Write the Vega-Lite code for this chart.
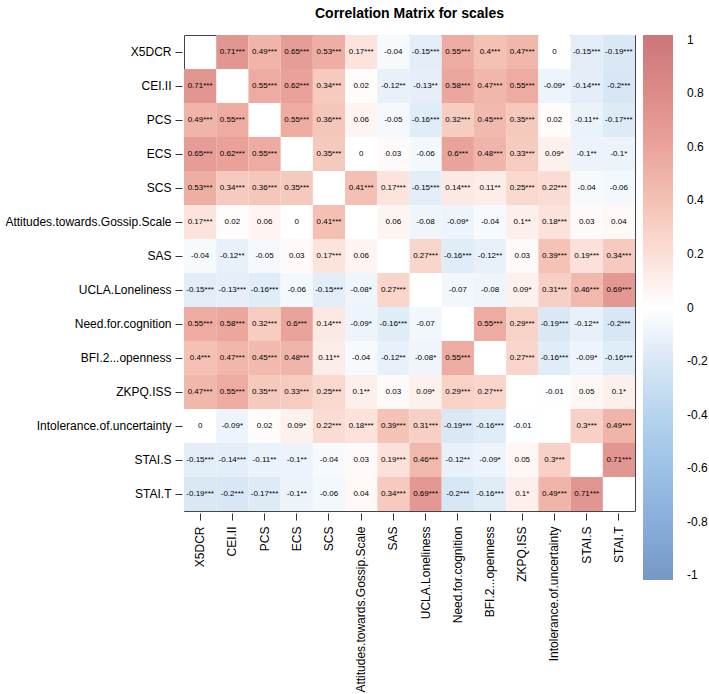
{
  "$schema": "https://vega.github.io/schema/vega-lite/v6.json",
  "width": 451,
  "height": 476,
  "autosize": {"type": "none"},
  "padding": {"left": 184, "top": 35, "right": 74, "bottom": 183},
  "background": "white",
  "config": {
    "font": "Liberation Sans",
    "view": {"stroke": "#444", "strokeWidth": 1},
    "axis": {"labelFont": "Liberation Sans", "labelFontSize": 12, "labelColor": "#000", "tickColor": "#333", "tickSize": 7, "domain": false, "offset": 2, "labelPadding": 4, "title": null, "grid": false}
  },
  "title": {"text": "Correlation Matrix for scales", "fontSize": 14, "fontWeight": "bold", "font": "Liberation Sans", "color": "#000", "anchor": "middle", "offset": 14},
  "data": {"values": [
    {"y":"X5DCR","x":"CEI.II","r":0.71,"t":"0.71***"},
    {"y":"X5DCR","x":"PCS","r":0.49,"t":"0.49***"},
    {"y":"X5DCR","x":"ECS","r":0.65,"t":"0.65***"},
    {"y":"X5DCR","x":"SCS","r":0.53,"t":"0.53***"},
    {"y":"X5DCR","x":"Attitudes.towards.Gossip.Scale","r":0.17,"t":"0.17***"},
    {"y":"X5DCR","x":"SAS","r":-0.04,"t":"-0.04"},
    {"y":"X5DCR","x":"UCLA.Loneliness","r":-0.15,"t":"-0.15***"},
    {"y":"X5DCR","x":"Need.for.cognition","r":0.55,"t":"0.55***"},
    {"y":"X5DCR","x":"BFI.2...openness","r":0.4,"t":"0.4***"},
    {"y":"X5DCR","x":"ZKPQ.ISS","r":0.47,"t":"0.47***"},
    {"y":"X5DCR","x":"Intolerance.of.uncertainty","r":0,"t":"0"},
    {"y":"X5DCR","x":"STAI.S","r":-0.15,"t":"-0.15***"},
    {"y":"X5DCR","x":"STAI.T","r":-0.19,"t":"-0.19***"},

    {"y":"CEI.II","x":"X5DCR","r":0.71,"t":"0.71***"},
    {"y":"CEI.II","x":"PCS","r":0.55,"t":"0.55***"},
    {"y":"CEI.II","x":"ECS","r":0.62,"t":"0.62***"},
    {"y":"CEI.II","x":"SCS","r":0.34,"t":"0.34***"},
    {"y":"CEI.II","x":"Attitudes.towards.Gossip.Scale","r":0.02,"t":"0.02"},
    {"y":"CEI.II","x":"SAS","r":-0.12,"t":"-0.12**"},
    {"y":"CEI.II","x":"UCLA.Loneliness","r":-0.13,"t":"-0.13**"},
    {"y":"CEI.II","x":"Need.for.cognition","r":0.58,"t":"0.58***"},
    {"y":"CEI.II","x":"BFI.2...openness","r":0.47,"t":"0.47***"},
    {"y":"CEI.II","x":"ZKPQ.ISS","r":0.55,"t":"0.55***"},
    {"y":"CEI.II","x":"Intolerance.of.uncertainty","r":-0.09,"t":"-0.09*"},
    {"y":"CEI.II","x":"STAI.S","r":-0.14,"t":"-0.14***"},
    {"y":"CEI.II","x":"STAI.T","r":-0.2,"t":"-0.2***"},

    {"y":"PCS","x":"X5DCR","r":0.49,"t":"0.49***"},
    {"y":"PCS","x":"CEI.II","r":0.55,"t":"0.55***"},
    {"y":"PCS","x":"ECS","r":0.55,"t":"0.55***"},
    {"y":"PCS","x":"SCS","r":0.36,"t":"0.36***"},
    {"y":"PCS","x":"Attitudes.towards.Gossip.Scale","r":0.06,"t":"0.06"},
    {"y":"PCS","x":"SAS","r":-0.05,"t":"-0.05"},
    {"y":"PCS","x":"UCLA.Loneliness","r":-0.16,"t":"-0.16***"},
    {"y":"PCS","x":"Need.for.cognition","r":0.32,"t":"0.32***"},
    {"y":"PCS","x":"BFI.2...openness","r":0.45,"t":"0.45***"},
    {"y":"PCS","x":"ZKPQ.ISS","r":0.35,"t":"0.35***"},
    {"y":"PCS","x":"Intolerance.of.uncertainty","r":0.02,"t":"0.02"},
    {"y":"PCS","x":"STAI.S","r":-0.11,"t":"-0.11**"},
    {"y":"PCS","x":"STAI.T","r":-0.17,"t":"-0.17***"},

    {"y":"ECS","x":"X5DCR","r":0.65,"t":"0.65***"},
    {"y":"ECS","x":"CEI.II","r":0.62,"t":"0.62***"},
    {"y":"ECS","x":"PCS","r":0.55,"t":"0.55***"},
    {"y":"ECS","x":"SCS","r":0.35,"t":"0.35***"},
    {"y":"ECS","x":"Attitudes.towards.Gossip.Scale","r":0,"t":"0"},
    {"y":"ECS","x":"SAS","r":0.03,"t":"0.03"},
    {"y":"ECS","x":"UCLA.Loneliness","r":-0.06,"t":"-0.06"},
    {"y":"ECS","x":"Need.for.cognition","r":0.6,"t":"0.6***"},
    {"y":"ECS","x":"BFI.2...openness","r":0.48,"t":"0.48***"},
    {"y":"ECS","x":"ZKPQ.ISS","r":0.33,"t":"0.33***"},
    {"y":"ECS","x":"Intolerance.of.uncertainty","r":0.09,"t":"0.09*"},
    {"y":"ECS","x":"STAI.S","r":-0.1,"t":"-0.1**"},
    {"y":"ECS","x":"STAI.T","r":-0.1,"t":"-0.1*"},

    {"y":"SCS","x":"X5DCR","r":0.53,"t":"0.53***"},
    {"y":"SCS","x":"CEI.II","r":0.34,"t":"0.34***"},
    {"y":"SCS","x":"PCS","r":0.36,"t":"0.36***"},
    {"y":"SCS","x":"ECS","r":0.35,"t":"0.35***"},
    {"y":"SCS","x":"Attitudes.towards.Gossip.Scale","r":0.41,"t":"0.41***"},
    {"y":"SCS","x":"SAS","r":0.17,"t":"0.17***"},
    {"y":"SCS","x":"UCLA.Loneliness","r":-0.15,"t":"-0.15***"},
    {"y":"SCS","x":"Need.for.cognition","r":0.14,"t":"0.14***"},
    {"y":"SCS","x":"BFI.2...openness","r":0.11,"t":"0.11**"},
    {"y":"SCS","x":"ZKPQ.ISS","r":0.25,"t":"0.25***"},
    {"y":"SCS","x":"Intolerance.of.uncertainty","r":0.22,"t":"0.22***"},
    {"y":"SCS","x":"STAI.S","r":-0.04,"t":"-0.04"},
    {"y":"SCS","x":"STAI.T","r":-0.06,"t":"-0.06"},

    {"y":"Attitudes.towards.Gossip.Scale","x":"X5DCR","r":0.17,"t":"0.17***"},
    {"y":"Attitudes.towards.Gossip.Scale","x":"CEI.II","r":0.02,"t":"0.02"},
    {"y":"Attitudes.towards.Gossip.Scale","x":"PCS","r":0.06,"t":"0.06"},
    {"y":"Attitudes.towards.Gossip.Scale","x":"ECS","r":0,"t":"0"},
    {"y":"Attitudes.towards.Gossip.Scale","x":"SCS","r":0.41,"t":"0.41***"},
    {"y":"Attitudes.towards.Gossip.Scale","x":"SAS","r":0.06,"t":"0.06"},
    {"y":"Attitudes.towards.Gossip.Scale","x":"UCLA.Loneliness","r":-0.08,"t":"-0.08"},
    {"y":"Attitudes.towards.Gossip.Scale","x":"Need.for.cognition","r":-0.09,"t":"-0.09*"},
    {"y":"Attitudes.towards.Gossip.Scale","x":"BFI.2...openness","r":-0.04,"t":"-0.04"},
    {"y":"Attitudes.towards.Gossip.Scale","x":"ZKPQ.ISS","r":0.1,"t":"0.1**"},
    {"y":"Attitudes.towards.Gossip.Scale","x":"Intolerance.of.uncertainty","r":0.18,"t":"0.18***"},
    {"y":"Attitudes.towards.Gossip.Scale","x":"STAI.S","r":0.03,"t":"0.03"},
    {"y":"Attitudes.towards.Gossip.Scale","x":"STAI.T","r":0.04,"t":"0.04"},

    {"y":"SAS","x":"X5DCR","r":-0.04,"t":"-0.04"},
    {"y":"SAS","x":"CEI.II","r":-0.12,"t":"-0.12**"},
    {"y":"SAS","x":"PCS","r":-0.05,"t":"-0.05"},
    {"y":"SAS","x":"ECS","r":0.03,"t":"0.03"},
    {"y":"SAS","x":"SCS","r":0.17,"t":"0.17***"},
    {"y":"SAS","x":"Attitudes.towards.Gossip.Scale","r":0.06,"t":"0.06"},
    {"y":"SAS","x":"UCLA.Loneliness","r":0.27,"t":"0.27***"},
    {"y":"SAS","x":"Need.for.cognition","r":-0.16,"t":"-0.16***"},
    {"y":"SAS","x":"BFI.2...openness","r":-0.12,"t":"-0.12**"},
    {"y":"SAS","x":"ZKPQ.ISS","r":0.03,"t":"0.03"},
    {"y":"SAS","x":"Intolerance.of.uncertainty","r":0.39,"t":"0.39***"},
    {"y":"SAS","x":"STAI.S","r":0.19,"t":"0.19***"},
    {"y":"SAS","x":"STAI.T","r":0.34,"t":"0.34***"},

    {"y":"UCLA.Loneliness","x":"X5DCR","r":-0.15,"t":"-0.15***"},
    {"y":"UCLA.Loneliness","x":"CEI.II","r":-0.13,"t":"-0.13***"},
    {"y":"UCLA.Loneliness","x":"PCS","r":-0.16,"t":"-0.16***"},
    {"y":"UCLA.Loneliness","x":"ECS","r":-0.06,"t":"-0.06"},
    {"y":"UCLA.Loneliness","x":"SCS","r":-0.15,"t":"-0.15***"},
    {"y":"UCLA.Loneliness","x":"Attitudes.towards.Gossip.Scale","r":-0.08,"t":"-0.08*"},
    {"y":"UCLA.Loneliness","x":"SAS","r":0.27,"t":"0.27***"},
    {"y":"UCLA.Loneliness","x":"Need.for.cognition","r":-0.07,"t":"-0.07"},
    {"y":"UCLA.Loneliness","x":"BFI.2...openness","r":-0.08,"t":"-0.08"},
    {"y":"UCLA.Loneliness","x":"ZKPQ.ISS","r":0.09,"t":"0.09*"},
    {"y":"UCLA.Loneliness","x":"Intolerance.of.uncertainty","r":0.31,"t":"0.31***"},
    {"y":"UCLA.Loneliness","x":"STAI.S","r":0.46,"t":"0.46***"},
    {"y":"UCLA.Loneliness","x":"STAI.T","r":0.69,"t":"0.69***"},

    {"y":"Need.for.cognition","x":"X5DCR","r":0.55,"t":"0.55***"},
    {"y":"Need.for.cognition","x":"CEI.II","r":0.58,"t":"0.58***"},
    {"y":"Need.for.cognition","x":"PCS","r":0.32,"t":"0.32***"},
    {"y":"Need.for.cognition","x":"ECS","r":0.6,"t":"0.6***"},
    {"y":"Need.for.cognition","x":"SCS","r":0.14,"t":"0.14***"},
    {"y":"Need.for.cognition","x":"Attitudes.towards.Gossip.Scale","r":-0.09,"t":"-0.09*"},
    {"y":"Need.for.cognition","x":"SAS","r":-0.16,"t":"-0.16***"},
    {"y":"Need.for.cognition","x":"UCLA.Loneliness","r":-0.07,"t":"-0.07"},
    {"y":"Need.for.cognition","x":"BFI.2...openness","r":0.55,"t":"0.55***"},
    {"y":"Need.for.cognition","x":"ZKPQ.ISS","r":0.29,"t":"0.29***"},
    {"y":"Need.for.cognition","x":"Intolerance.of.uncertainty","r":-0.19,"t":"-0.19***"},
    {"y":"Need.for.cognition","x":"STAI.S","r":-0.12,"t":"-0.12**"},
    {"y":"Need.for.cognition","x":"STAI.T","r":-0.2,"t":"-0.2***"},

    {"y":"BFI.2...openness","x":"X5DCR","r":0.4,"t":"0.4***"},
    {"y":"BFI.2...openness","x":"CEI.II","r":0.47,"t":"0.47***"},
    {"y":"BFI.2...openness","x":"PCS","r":0.45,"t":"0.45***"},
    {"y":"BFI.2...openness","x":"ECS","r":0.48,"t":"0.48***"},
    {"y":"BFI.2...openness","x":"SCS","r":0.11,"t":"0.11**"},
    {"y":"BFI.2...openness","x":"Attitudes.towards.Gossip.Scale","r":-0.04,"t":"-0.04"},
    {"y":"BFI.2...openness","x":"SAS","r":-0.12,"t":"-0.12**"},
    {"y":"BFI.2...openness","x":"UCLA.Loneliness","r":-0.08,"t":"-0.08*"},
    {"y":"BFI.2...openness","x":"Need.for.cognition","r":0.55,"t":"0.55***"},
    {"y":"BFI.2...openness","x":"ZKPQ.ISS","r":0.27,"t":"0.27***"},
    {"y":"BFI.2...openness","x":"Intolerance.of.uncertainty","r":-0.16,"t":"-0.16***"},
    {"y":"BFI.2...openness","x":"STAI.S","r":-0.09,"t":"-0.09*"},
    {"y":"BFI.2...openness","x":"STAI.T","r":-0.16,"t":"-0.16***"},

    {"y":"ZKPQ.ISS","x":"X5DCR","r":0.47,"t":"0.47***"},
    {"y":"ZKPQ.ISS","x":"CEI.II","r":0.55,"t":"0.55***"},
    {"y":"ZKPQ.ISS","x":"PCS","r":0.35,"t":"0.35***"},
    {"y":"ZKPQ.ISS","x":"ECS","r":0.33,"t":"0.33***"},
    {"y":"ZKPQ.ISS","x":"SCS","r":0.25,"t":"0.25***"},
    {"y":"ZKPQ.ISS","x":"Attitudes.towards.Gossip.Scale","r":0.1,"t":"0.1**"},
    {"y":"ZKPQ.ISS","x":"SAS","r":0.03,"t":"0.03"},
    {"y":"ZKPQ.ISS","x":"UCLA.Loneliness","r":0.09,"t":"0.09*"},
    {"y":"ZKPQ.ISS","x":"Need.for.cognition","r":0.29,"t":"0.29***"},
    {"y":"ZKPQ.ISS","x":"BFI.2...openness","r":0.27,"t":"0.27***"},
    {"y":"ZKPQ.ISS","x":"Intolerance.of.uncertainty","r":-0.01,"t":"-0.01"},
    {"y":"ZKPQ.ISS","x":"STAI.S","r":0.05,"t":"0.05"},
    {"y":"ZKPQ.ISS","x":"STAI.T","r":0.1,"t":"0.1*"},

    {"y":"Intolerance.of.uncertainty","x":"X5DCR","r":0,"t":"0"},
    {"y":"Intolerance.of.uncertainty","x":"CEI.II","r":-0.09,"t":"-0.09*"},
    {"y":"Intolerance.of.uncertainty","x":"PCS","r":0.02,"t":"0.02"},
    {"y":"Intolerance.of.uncertainty","x":"ECS","r":0.09,"t":"0.09*"},
    {"y":"Intolerance.of.uncertainty","x":"SCS","r":0.22,"t":"0.22***"},
    {"y":"Intolerance.of.uncertainty","x":"Attitudes.towards.Gossip.Scale","r":0.18,"t":"0.18***"},
    {"y":"Intolerance.of.uncertainty","x":"SAS","r":0.39,"t":"0.39***"},
    {"y":"Intolerance.of.uncertainty","x":"UCLA.Loneliness","r":0.31,"t":"0.31***"},
    {"y":"Intolerance.of.uncertainty","x":"Need.for.cognition","r":-0.19,"t":"-0.19***"},
    {"y":"Intolerance.of.uncertainty","x":"BFI.2...openness","r":-0.16,"t":"-0.16***"},
    {"y":"Intolerance.of.uncertainty","x":"ZKPQ.ISS","r":-0.01,"t":"-0.01"},
    {"y":"Intolerance.of.uncertainty","x":"STAI.S","r":0.3,"t":"0.3***"},
    {"y":"Intolerance.of.uncertainty","x":"STAI.T","r":0.49,"t":"0.49***"},

    {"y":"STAI.S","x":"X5DCR","r":-0.15,"t":"-0.15***"},
    {"y":"STAI.S","x":"CEI.II","r":-0.14,"t":"-0.14***"},
    {"y":"STAI.S","x":"PCS","r":-0.11,"t":"-0.11**"},
    {"y":"STAI.S","x":"ECS","r":-0.1,"t":"-0.1**"},
    {"y":"STAI.S","x":"SCS","r":-0.04,"t":"-0.04"},
    {"y":"STAI.S","x":"Attitudes.towards.Gossip.Scale","r":0.03,"t":"0.03"},
    {"y":"STAI.S","x":"SAS","r":0.19,"t":"0.19***"},
    {"y":"STAI.S","x":"UCLA.Loneliness","r":0.46,"t":"0.46***"},
    {"y":"STAI.S","x":"Need.for.cognition","r":-0.12,"t":"-0.12**"},
    {"y":"STAI.S","x":"BFI.2...openness","r":-0.09,"t":"-0.09*"},
    {"y":"STAI.S","x":"ZKPQ.ISS","r":0.05,"t":"0.05"},
    {"y":"STAI.S","x":"Intolerance.of.uncertainty","r":0.3,"t":"0.3***"},
    {"y":"STAI.S","x":"STAI.T","r":0.71,"t":"0.71***"},

    {"y":"STAI.T","x":"X5DCR","r":-0.19,"t":"-0.19***"},
    {"y":"STAI.T","x":"CEI.II","r":-0.2,"t":"-0.2***"},
    {"y":"STAI.T","x":"PCS","r":-0.17,"t":"-0.17***"},
    {"y":"STAI.T","x":"ECS","r":-0.1,"t":"-0.1**"},
    {"y":"STAI.T","x":"SCS","r":-0.06,"t":"-0.06"},
    {"y":"STAI.T","x":"Attitudes.towards.Gossip.Scale","r":0.04,"t":"0.04"},
    {"y":"STAI.T","x":"SAS","r":0.34,"t":"0.34***"},
    {"y":"STAI.T","x":"UCLA.Loneliness","r":0.69,"t":"0.69***"},
    {"y":"STAI.T","x":"Need.for.cognition","r":-0.2,"t":"-0.2***"},
    {"y":"STAI.T","x":"BFI.2...openness","r":-0.16,"t":"-0.16***"},
    {"y":"STAI.T","x":"ZKPQ.ISS","r":0.1,"t":"0.1*"},
    {"y":"STAI.T","x":"Intolerance.of.uncertainty","r":0.49,"t":"0.49***"},
    {"y":"STAI.T","x":"STAI.S","r":0.71,"t":"0.71***"}
  ]},
  "encoding": {
    "x": {"field": "x", "type": "nominal", "sort": ["X5DCR","CEI.II","PCS","ECS","SCS","Attitudes.towards.Gossip.Scale","SAS","UCLA.Loneliness","Need.for.cognition","BFI.2...openness","ZKPQ.ISS","Intolerance.of.uncertainty","STAI.S","STAI.T"], "scale": {"paddingInner": 0, "paddingOuter": 0}, "axis": {"labelAngle": 270, "labelPadding": 6}},
    "y": {"field": "y", "type": "nominal", "sort": ["X5DCR","CEI.II","PCS","ECS","SCS","Attitudes.towards.Gossip.Scale","SAS","UCLA.Loneliness","Need.for.cognition","BFI.2...openness","ZKPQ.ISS","Intolerance.of.uncertainty","STAI.S","STAI.T"], "scale": {"paddingInner": 0, "paddingOuter": 0}}
  },
  "layer": [
    {
      "mark": {"type": "rect"},
      "encoding": {
        "color": {
          "field": "r", "type": "quantitative",
          "scale": {
            "domain": [-1.017, -1, -0.8, -0.6, -0.4, -0.2, 0, 0.2, 0.4, 0.6, 0.8, 1, 1.017],
            "range": ["#779AC5", "#779AC5", "#88AEDA", "#9CC2E6", "#B6D4EE", "#D8E7F5", "#FFFFFF", "#FBDFD7", "#F4C1B4", "#EAA39B", "#DC8B89", "#CD787B", "#CD787B"],
            "interpolate": "rgb"
          },
          "legend": {
            "type": "gradient", "orient": "none", "legendX": 459, "legendY": 0,
            "direction": "vertical", "title": null,
            "gradientLength": 545, "gradientThickness": 30, "gradientStrokeWidth": 0,
            "values": [1, 0.8, 0.6, 0.4, 0.2, 0, -0.2, -0.4, -0.6, -0.8, -1],
            "labelExpr": "toString(datum.value)",
            "labelFontSize": 12, "labelFont": "Liberation Sans", "labelColor": "#000",
            "labelOffset": 14, "labelOverlap": false
          }
        }
      }
    },
    {
      "mark": {"type": "text", "fontSize": 8, "font": "Liberation Sans", "color": "#000"},
      "encoding": {"text": {"field": "t", "type": "nominal"}}
    }
  ]
}
